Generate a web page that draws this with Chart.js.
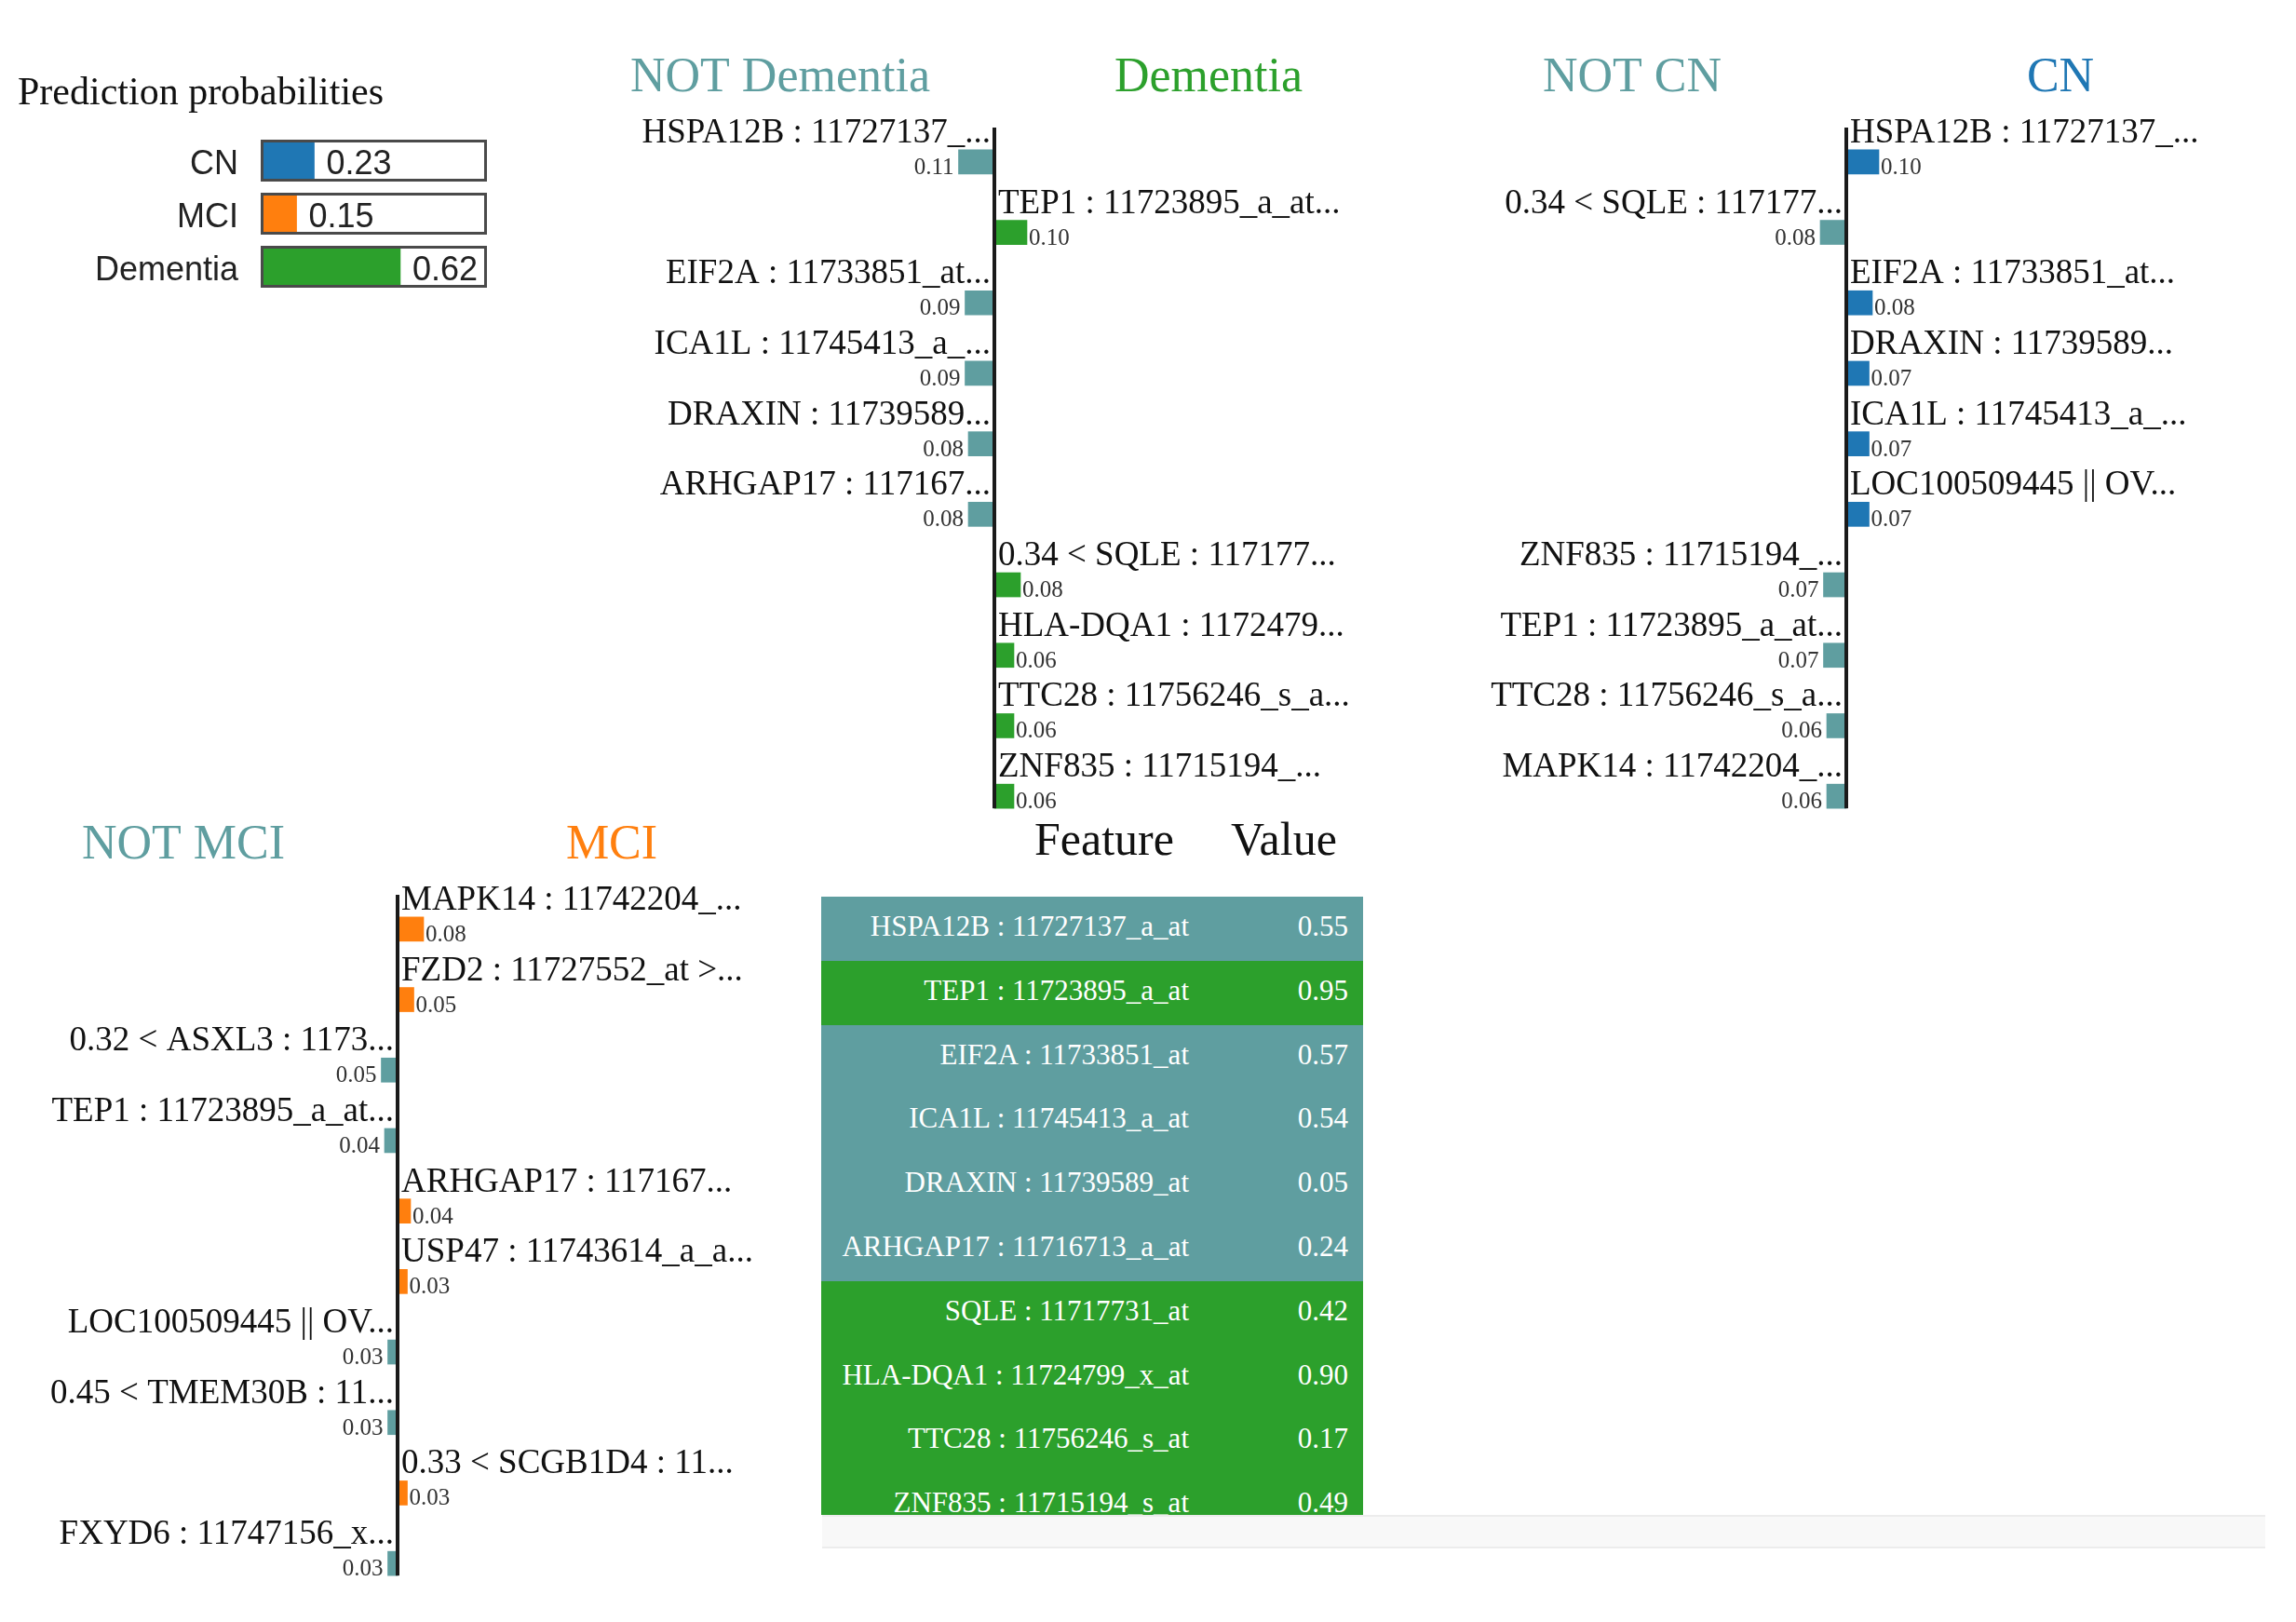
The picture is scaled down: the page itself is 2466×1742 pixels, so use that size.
<!DOCTYPE html>
<html>
<head>
<meta charset="utf-8">
<script src="https://cdn.jsdelivr.net/npm/chart.js@4.4.1/dist/chart.umd.min.js"></script>
<style>
  body { margin: 0; background: #fff; width: 2466px; height: 1742px; overflow: hidden; position: relative; }
  canvas { position: absolute; }
  .hdr { position: absolute; font: 50px "Liberation Serif", serif; line-height: 50px; color: #111; }
  #table { position: absolute; left: 882px; top: 963px; width: 582px; height: 664px; overflow: hidden; }
  .row { position: relative; height: 68.8px; }
  .row span { position: absolute; top: 16px; font: 31px "Liberation Serif", serif; line-height: 31px; color: #fff; white-space: nowrap; }
  #scroll { position: absolute; left: 883px; top: 1627px; width: 1550px; height: 32px; background: #f8f8f8; border-top: 2px solid #ececec; border-bottom: 2px solid #ececec; }
</style>
</head>
<body>
<canvas id="probChart" width="560" height="340" style="left:0;top:0"></canvas>
<canvas id="dementiaChart" width="840" height="900" style="left:648px;top:0"></canvas>
<canvas id="cnChart" width="840" height="900" style="left:1563px;top:0"></canvas>
<canvas id="mciChart" width="840" height="900" style="left:7px;top:824px"></canvas>
<div class="hdr" style="left:1111px;top:876px">Feature</div>
<div class="hdr" style="left:1322px;top:876px">Value</div>
<div id="table"></div>
<div id="scroll"></div>
<script>
// prediction probabilities
var probClasses = ['CN', 'MCI', 'Dementia'];
var probValues = [0.23, 0.15, 0.62];

// explanation for class Dementia
var dementiaFeatures = ['HSPA12B : 11727137_...', 'TEP1 : 11723895_a_at...', 'EIF2A : 11733851_at...',
	'ICA1L : 11745413_a_...', 'DRAXIN : 11739589...', 'ARHGAP17 : 117167...', '0.34 < SQLE : 117177...',
	'HLA-DQA1 : 1172479...', 'TTC28 : 11756246_s_a...', 'ZNF835 : 11715194_...'];
var dementiaWeights = [-0.11, 0.10, -0.09, -0.09, -0.08, -0.08, 0.08, 0.06, 0.06, 0.06];

// explanation for class CN
var cnFeatures = ['HSPA12B : 11727137_...', '0.34 < SQLE : 117177...', 'EIF2A : 11733851_at...',
	'DRAXIN : 11739589...', 'ICA1L : 11745413_a_...', 'LOC100509445 || OV...', 'ZNF835 : 11715194_...',
	'TEP1 : 11723895_a_at...', 'TTC28 : 11756246_s_a...', 'MAPK14 : 11742204_...'];
var cnWeights = [0.10, -0.08, 0.08, 0.07, 0.07, 0.07, -0.07, -0.07, -0.06, -0.06];

// explanation for class MCI
var mciFeatures = ['MAPK14 : 11742204_...', 'FZD2 : 11727552_at >...', '0.32 < ASXL3 : 1173...',
	'TEP1 : 11723895_a_at...', 'ARHGAP17 : 117167...', 'USP47 : 11743614_a_a...', 'LOC100509445 || OV...',
	'0.45 < TMEM30B : 11...', '0.33 < SCGB1D4 : 11...', 'FXYD6 : 11747156_x...'];
var mciWeights = [0.08, 0.05, -0.05, -0.04, 0.04, 0.03, -0.03, -0.03, 0.03, -0.03];

// feature / value table
var tableFeatures = ['HSPA12B : 11727137_a_at', 'TEP1 : 11723895_a_at', 'EIF2A : 11733851_at',
	'ICA1L : 11745413_a_at', 'DRAXIN : 11739589_at', 'ARHGAP17 : 11716713_a_at', 'SQLE : 11717731_at',
	'HLA-DQA1 : 11724799_x_at', 'TTC28 : 11756246_s_at', 'ZNF835 : 11715194_s_at'];
var tableValues = ['0.55', '0.95', '0.57', '0.54', '0.05', '0.24', '0.42', '0.90', '0.17', '0.49'];

var TEAL = '#5f9ea0';
var classColors = { 'CN': '#1f77b4', 'MCI': '#ff7f0e', 'Dementia': '#2ca02c' };

var probPlugin = {
	id: 'probText',
	afterDatasetsDraw: function(chart) {
		var ctx = chart.ctx;
		var x = chart.scales.x;
		var x0 = x.getPixelForValue(0), x1 = x.getPixelForValue(1);
		var meta = chart.getDatasetMeta(0);
		ctx.save();
		ctx.fillStyle = '#111';
		ctx.font = '42px "Liberation Serif"';
		ctx.textAlign = 'left';
		ctx.fillText('Prediction probabilities', 19, 112);
		meta.data.forEach(function(bar, i) {
			var h = bar.height;
			ctx.strokeStyle = '#4a4a4a';
			ctx.lineWidth = 3;
			ctx.strokeRect(x0 - 1.5, bar.y - h / 2 - 1.5, x1 - x0 + 3, h + 3);
			ctx.font = '36px "Liberation Sans"';
			ctx.fillStyle = '#222';
			ctx.textAlign = 'right';
			ctx.fillText(chart.data.labels[i], 256, bar.y + 14);
			var txt = probValues[i].toFixed(2);
			var w = ctx.measureText(txt).width;
			if (bar.x + 13 + w > x1 - 3) {
				ctx.fillText(txt, x1 - 3, bar.y + 14);
			} else {
				ctx.textAlign = 'left';
				ctx.fillText(txt, bar.x + 13, bar.y + 14);
			}
		});
		ctx.restore();
	}
};

new Chart(document.getElementById('probChart'), {
	type: 'bar',
	data: {
		labels: probClasses,
		datasets: [{
			data: probValues,
			backgroundColor: probClasses.map(function(c) { return classColors[c]; }),
			barThickness: 39,
			borderWidth: 0
		}]
	},
	options: {
		indexAxis: 'y',
		responsive: false,
		animation: false,
		devicePixelRatio: 1,
		layout: { padding: { left: 283, right: 40, top: 144, bottom: 25 } },
		plugins: { legend: { display: false }, tooltip: { enabled: false } },
		scales: {
			x: { min: 0, max: 1, display: false },
			y: { display: false }
		}
	},
	plugins: [probPlugin]
});

var limePlugin = {
	id: 'limeText',
	afterDatasetsDraw: function(chart, args, opts) {
		var ctx = chart.ctx;
		var meta = chart.getDatasetMeta(0);
		var zero = chart.scales.x.getPixelForValue(0);
		var weights = chart.data.datasets[0].data;
		ctx.save();
		ctx.textBaseline = 'alphabetic';
		ctx.font = '52px "Liberation Serif"';
		ctx.textAlign = 'center';
		ctx.fillStyle = TEAL;
		ctx.fillText(opts.negTitle, zero - 230, 98);
		ctx.fillStyle = opts.posColor;
		ctx.fillText(opts.posTitle, zero + 230, 98);

		meta.data.forEach(function(bar, i) {
			var top = bar.y - bar.height / 2;
			var bottom = bar.y + bar.height / 2;
			var neg = weights[i] < 0;
			ctx.textAlign = neg ? 'right' : 'left';
			ctx.font = '37px "Liberation Serif"';
			ctx.fillStyle = '#111';
			ctx.fillText(chart.data.labels[i], neg ? zero - 4 : zero + 4, top - 8);
			ctx.font = '25px "Liberation Serif"';
			ctx.fillStyle = '#333';
			ctx.fillText(Math.abs(weights[i]).toFixed(2), neg ? bar.x - 5 : bar.x + 2, bottom);
		});

		// the centre line, from the top down to the last bar
		var last = meta.data[meta.data.length - 1];
		ctx.fillStyle = '#1a1a1a';
		ctx.fillRect(zero - 2, chart.chartArea.top + 1, 4, last.y + last.height / 2 - chart.chartArea.top - 1);
		ctx.restore();
	}
};

function drawExplanation(canvasId, features, weights, className) {
	new Chart(document.getElementById(canvasId), {
		type: 'bar',
		data: {
			labels: features,
			datasets: [{
				data: weights,
				backgroundColor: weights.map(function(v) { return v < 0 ? TEAL : classColors[className]; }),
				barThickness: 26,
				borderWidth: 0
			}]
		},
		options: {
			indexAxis: 'y',
			responsive: false,
			animation: false,
			devicePixelRatio: 1,
			layout: { padding: { left: 0, right: 0, top: 136, bottom: 7 } },
			plugins: {
				legend: { display: false },
				tooltip: { enabled: false },
				limeText: { negTitle: 'NOT ' + className, posTitle: className, posColor: classColors[className] }
			},
			scales: {
				x: { min: -1.2, max: 1.2, display: false },
				y: { display: false, offset: true }
			}
		},
		plugins: [limePlugin]
	});
}

drawExplanation('dementiaChart', dementiaFeatures, dementiaWeights, 'Dementia');
drawExplanation('cnChart', cnFeatures, cnWeights, 'CN');
drawExplanation('mciChart', mciFeatures, mciWeights, 'MCI');

// table rows, coloured by the side they push the Dementia prediction
var table = document.getElementById('table');
tableFeatures.forEach(function(name, i) {
	var row = document.createElement('div');
	row.className = 'row';
	row.style.background = dementiaWeights[i] < 0 ? TEAL : classColors['Dementia'];
	var f = document.createElement('span');
	f.textContent = name;
	f.style.right = '187px';
	var v = document.createElement('span');
	v.textContent = tableValues[i];
	v.style.right = '16px';
	row.appendChild(f);
	row.appendChild(v);
	table.appendChild(row);
});
</script>
</body>
</html>
